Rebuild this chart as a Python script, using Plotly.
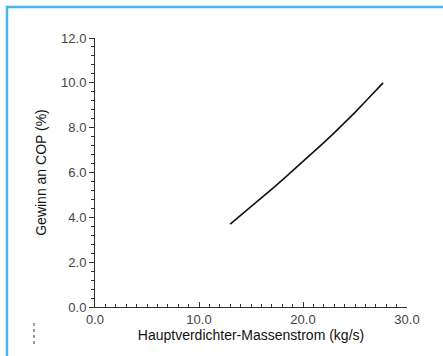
import plotly.graph_objects as go

# Main compressor mass flow (kg/s) and resulting COP gain (%)
mass_flow = [13.0, 14.0, 15.0, 16.0, 17.0, 18.0, 19.0, 20.0, 21.0, 22.0,
             23.0, 24.0, 25.0, 26.0, 27.0, 27.7]
cop_gain = [3.70, 4.08, 4.47, 4.86, 5.26, 5.66, 6.07, 6.48, 6.90, 7.33,
            7.77, 8.22, 8.68, 9.17, 9.66, 10.0]

x_ticks = [0, 10, 20, 30]
x_labels = ["0.0", "10.0", "20.0", "30.0"]
y_ticks = [0, 2, 4, 6, 8, 10, 12]
y_labels = ["0.0", "2.0", "4.0", "6.0", "8.0", "10.0", "12.0"]

W, H = 443, 356
L, R, T, B = 95, 36, 38, 49
pw, ph = W - L - R, H - T - B


def px_x(p):
    return (p - L) / pw


def px_y(p):
    return (H - B - p) / ph


fig = go.Figure()
fig.add_trace(go.Scatter(
    x=mass_flow, y=cop_gain, mode="lines",
    line=dict(color="#111111", width=1.6),
    showlegend=False, hoverinfo="skip",
))

font = dict(family="Liberation Sans, Arial, sans-serif", size=13, color="#333333")

fig.update_layout(
    width=W, height=H,
    margin=dict(l=L, r=R, t=T, b=B),
    paper_bgcolor="white", plot_bgcolor="white",
    font=font,
    xaxis=dict(
        range=[0, 30], tickvals=x_ticks, ticktext=x_labels,
        ticks="inside", ticklen=5, tickwidth=1, tickcolor="#333",
        showline=True, linecolor="#333", linewidth=1,
        showgrid=False, zeroline=False,
        minor=dict(dtick=1, ticks="inside", ticklen=3, tickcolor="#333", showgrid=False),
        title=dict(text="Hauptverdichter-Massenstrom (kg/s)", standoff=4,
                   font=dict(size=14, color="#111")),
        tickfont=dict(size=13, color="#444"),
    ),
    yaxis=dict(
        range=[0, 12], tickvals=y_ticks, ticktext=y_labels,
        ticks="outside", ticklen=5, tickwidth=1, tickcolor="#333",
        showline=True, linecolor="#333", linewidth=1,
        showgrid=False, zeroline=False,
        minor=dict(dtick=0.4, ticks="outside", ticklen=3, tickcolor="#333", showgrid=False),
        title=dict(text="Gewinn an COP (%)", standoff=11,
                   font=dict(size=14, color="#111")),
        tickfont=dict(size=13, color="#444"),
    ),
    shapes=[
        # light blue frame around the figure
        dict(type="rect", xref="paper", yref="paper",
             x0=px_x(7), x1=px_x(W + 10), y0=px_y(H + 10), y1=px_y(7),
             line=dict(color="#45b8ea", width=2.5), fillcolor="rgba(0,0,0,0)",
             layer="below"),
        # small dotted mark at lower left
        dict(type="line", xref="paper", yref="paper",
             x0=px_x(34), x1=px_x(34), y0=px_y(344), y1=px_y(322),
             line=dict(color="#555555", width=1.2, dash="dot")),
    ],
)

fig.write_html("out.html")
